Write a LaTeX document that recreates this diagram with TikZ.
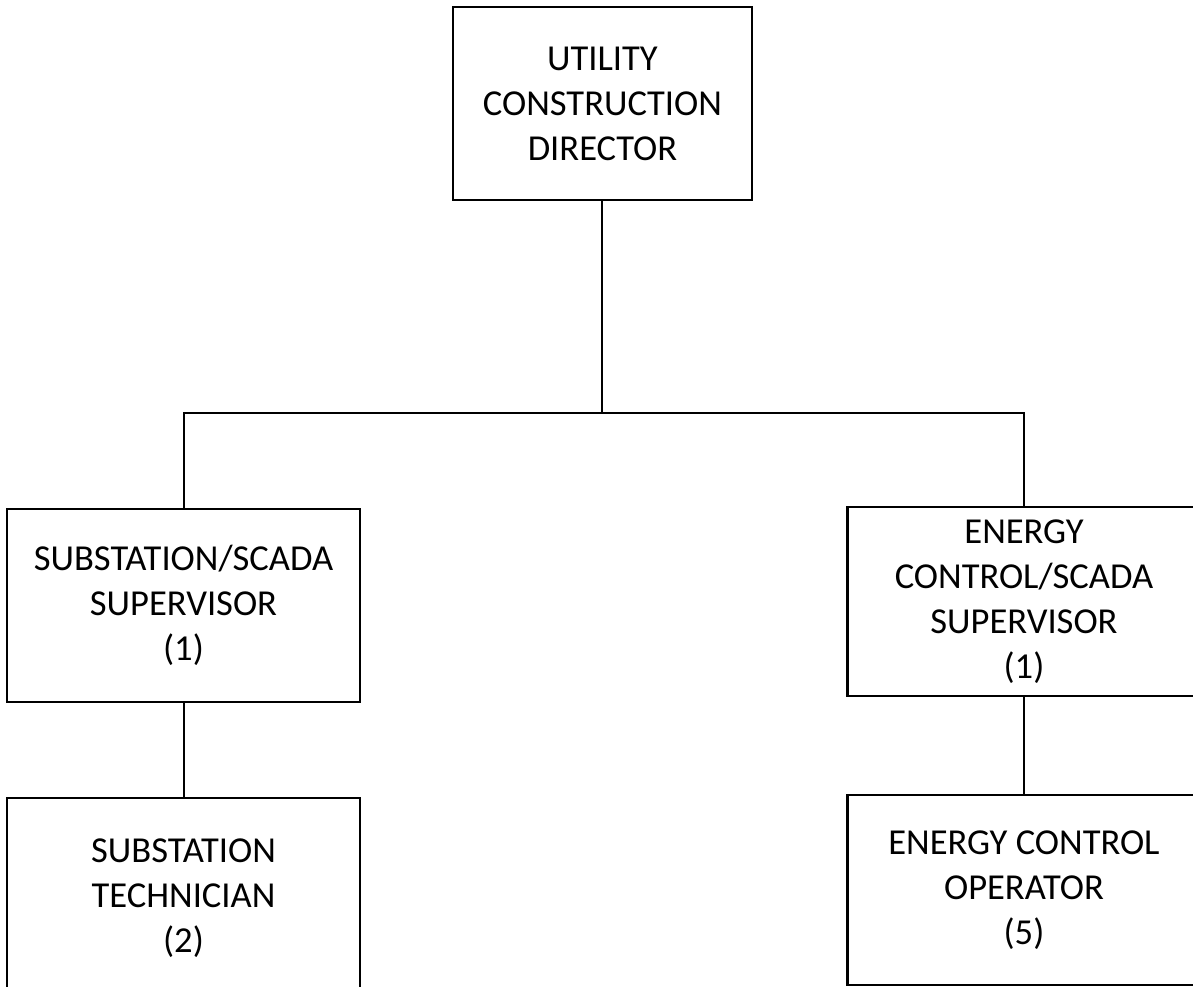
\documentclass[tikz,border=0pt]{standalone}
\usepackage{fontspec}
\setmainfont{Carlito}
\usepackage{tikz}
\usetikzlibrary{positioning}

\begin{document}
\begin{tikzpicture}[font=\fontsize{13}{16}\selectfont,
  post/.style={draw,line width=0.9pt,align=center,inner sep=0pt,minimum width=4.41cm,minimum height=2.41cm},
  link/.style={line width=0.7pt}]
\useasboundingbox (0,0) rectangle (14.9125,12.3375);
\clip (0,0) rectangle (14.9125,12.3375);
% director on top
\node[post,minimum width=3.74cm] (dir) at (7.531,11.044) {UTILITY\\CONSTRUCTION\\DIRECTOR};
% supervisors
\node[post] (subsup) at (2.294,4.769) {SUBSTATION/SCADA\\SUPERVISOR\\(1)};
\node[post,minimum height=2.36cm] (ecsup) at (12.8,4.819) {ENERGY\\CONTROL/SCADA\\SUPERVISOR\\(1)};
% staff under each supervisor
\node[post,minimum height=2.5cm] (subtech) at (2.294,1.1125) {SUBSTATION\\TECHNICIAN\\(2)};
\node[post,minimum height=2.375cm] (ecop) at (12.8,1.2125) {ENERGY CONTROL\\OPERATOR\\(5)};
% reporting lines
\coordinate (bus) at (7.531,7.175);
\draw[link] (dir.south) -- (bus);
\draw[link] (subsup.north) |- (bus) -| (ecsup.north);
\draw[link] (subsup.south) -- (subtech.north);
\draw[link] (ecsup.south) -- (ecop.north);
\end{tikzpicture}
\end{document}
